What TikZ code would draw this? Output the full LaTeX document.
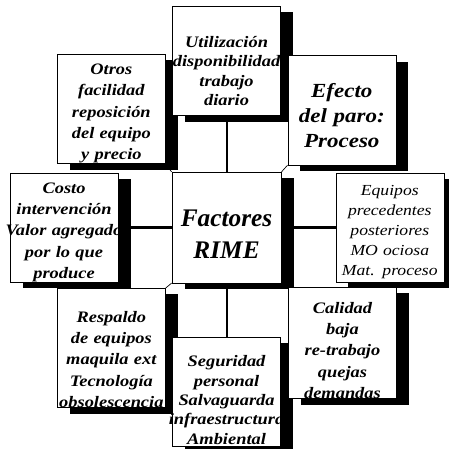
\documentclass[tikz,border=0pt]{standalone}
\usepackage{fontspec}
\setmainfont{Liberation Serif}
\newfontfamily\boxfont[FakeStretch=1.15]{Liberation Serif}
\usepackage{tikz}
\usetikzlibrary{positioning,shadows}

\newcommand{\ovf}[1]{\makebox[0pt]{#1}}

\tikzset{
    factor/.style={draw, fill=white, line width=0.4pt,
        minimum width=81pt, minimum height=82pt, text width=81pt,
        inner sep=0pt, align=center, topgap=7pt,
        drop shadow={shadow xshift=9.5pt, shadow yshift=-4.5pt, fill=black, opacity=1},
        font=\boxfont\bfseries\itshape\fontsize{12}{16}\selectfont},
    topgap/.style={execute at begin node={\vadjust pre{\kern#1}}},
    link/.style={line width=1.6pt},
    corner/.style={line width=0.5pt}
}

\begin{document}
\begin{tikzpicture}
    \useasboundingbox (-169.9pt,-166.1pt) rectangle (166.1pt,170.6pt);

    \node[factor, minimum width=82pt, text width=82pt, minimum height=83pt, topgap=3pt,
        font=\bfseries\itshape\fontsize{19}{24}\selectfont] (rime) at (0,0) {Factores\\RIME};

    \node[factor, above left=6pt and 4.5pt of rime] (otros)
        {Otros\\facilidad\\reposición\\del equipo\\y precio};
    \node[factor, left=40pt of rime] (costo)
        {Costo\\intervención\\\ovf{Valor agregado}\\por lo que\\produce};
    \node[factor, below left=3.75pt and 4.5pt of rime, topgap=10pt] (respaldo)
        {Respaldo\\de equipos\\maquila ext\\Tecnología\\\ovf{obsolescencia}};
    \node[factor, above=42pt of rime, topgap=8pt, font=\boxfont\bfseries\itshape\fontsize{12}{14.6}\selectfont] (util)
        {Utilización\\\ovf{disponibilidad}\\trabajo\\diario};
    \node[factor, below=40.5pt of rime, topgap=5pt, font=\boxfont\bfseries\itshape\fontsize{12}{14.6}\selectfont] (seguridad)
        {Seguridad\\personal\\Salvaguarda\\\ovf{infraestructura}\\Ambiental};
    \node[factor, above right=5pt and 4.5pt of rime, topgap=1pt, font=\boxfont\bfseries\itshape\fontsize{15}{19}\selectfont] (efecto)
        {Efecto\\del paro:\\Proceso};
    \node[factor, right=40.5pt of rime, font=\boxfont\itshape\fontsize{11.5}{15}\selectfont] (equipos)
        {Equipos\\precedentes\\posteriores\\MO ociosa\\Mat. proceso};
    \node[factor, below right=3pt and 5pt of rime, topgap=4pt] (calidad)
        {Calidad\\baja\\re-trabajo\\quejas\\demandas};

    \draw[link] (rime) -- (util);
    \draw[link] (rime) -- (costo);
    \draw[link] (rime) -- (equipos);
    \draw[link] (rime) -- (seguridad);
    \draw[corner] (rime.north west) -- (otros.south east);
    \draw[corner] (rime.north east) -- (efecto.south west);
    \draw[corner] (rime.south west) -- (respaldo.north east);
    \draw[corner] (rime.south east) -- (calidad.north west);
\end{tikzpicture}
\end{document}
